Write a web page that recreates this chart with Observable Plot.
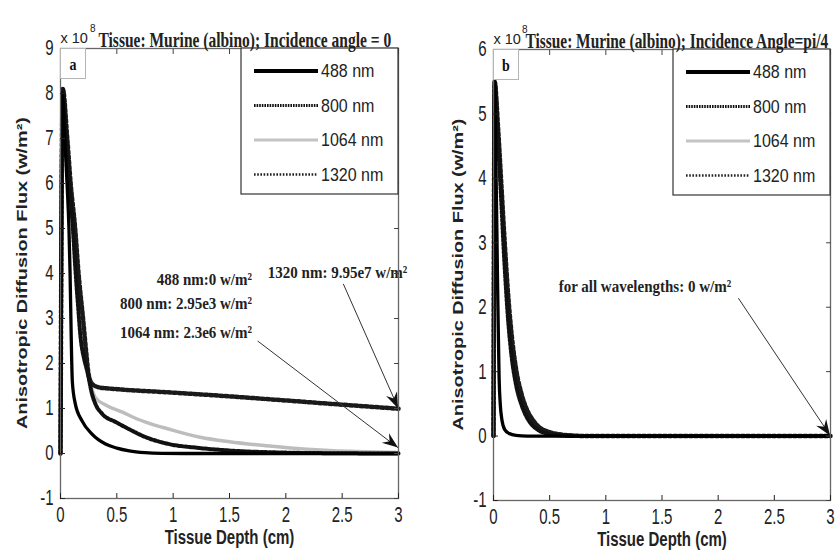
<!DOCTYPE html>
<html><head><meta charset="utf-8">
<script src="https://cdn.jsdelivr.net/npm/d3@7"></script>
<script src="https://cdn.jsdelivr.net/npm/@observablehq/plot@0.6"></script>
<style>
body{margin:0;background:#fff;}
#wrap{display:flex;width:839px;height:556px;overflow:hidden;background:#fff;}
</style></head><body><div id="wrap"></div>
<script>
// ---------- data (flux in units of 1e8 W/m², depth in cm) ----------
const seriesNames = ["488 nm", "800 nm", "1064 nm", "1320 nm"];
const depthTicks = [0, 0.5, 1, 1.5, 2, 2.5, 3];
const fluxTicksA = [-1, 0, 1, 2, 3, 4, 5, 6, 7, 8, 9];
const fluxTicksB = [-1, 0, 1, 2, 3, 4, 5, 6];

// Panel a: incidence angle = 0
const a488 = [[0,0],[0.015,8.0],[0.04,6.9],[0.06,5.9],[0.075,5.0],[0.085,4.0],[0.095,2.6],[0.105,1.6],[0.13,1.12],[0.19,0.73],[0.28,0.43],[0.4,0.21],[0.5,0.12],[0.61,0.06],[0.75,0.02],[0.9,0.004],[1.1,0],[1.5,0],[2,0],[2.5,0],[3,0]];
const a800 = [[0,0],[0.02,8.1],[0.05,7.1],[0.08,6.0],[0.11,5.0],[0.133,4.06],[0.155,3.3],[0.178,2.58],[0.21,2.1],[0.237,1.84],[0.28,1.32],[0.31,1.1],[0.37,0.88],[0.49,0.7],[0.64,0.5],[0.695,0.43],[0.96,0.21],[1.2,0.13],[1.54,0.06],[2.0,0.02],[2.5,0.005],[3,0]];
const a1064 = [[0,0],[0.02,8.1],[0.05,7.0],[0.08,6.0],[0.11,5.0],[0.14,4.0],[0.17,3.0],[0.2,2.3],[0.24,1.75],[0.27,1.5],[0.31,1.24],[0.4,1.08],[0.55,0.92],[0.65,0.8],[0.8,0.66],[0.95,0.55],[1.24,0.36],[1.5,0.26],[1.83,0.17],[2.1,0.11],[2.42,0.06],[2.7,0.04],[3,0.023]];
const a1320 = [[0,0],[0.02,8.1],[0.06,7.0],[0.09,6.0],[0.13,5.0],[0.16,4.0],[0.2,3.0],[0.23,2.2],[0.25,1.75],[0.28,1.55],[0.34,1.47],[0.5,1.43],[0.95,1.36],[1.5,1.27],[1.83,1.21],[2.42,1.1],[3,0.995]];

// Panel b: incidence angle = pi/4
const b488 = [[0,0],[0.01,5.5],[0.02,4.4],[0.03,3.2],[0.036,2.4],[0.043,1.6],[0.05,0.9],[0.06,0.5],[0.075,0.25],[0.1,0.1],[0.14,0.04],[0.2,0.01],[0.3,0],[1,0],[2,0],[3,0]];
const b800 = [[0,0],[0.01,5.5],[0.04,4.6],[0.07,3.6],[0.1,2.6],[0.13,1.8],[0.16,1.25],[0.2,0.8],[0.25,0.48],[0.3,0.28],[0.35,0.16],[0.4,0.09],[0.5,0.03],[0.6,0.01],[0.7,0],[3,0]];
const b1064 = [[0,0],[0.01,5.5],[0.04,4.7],[0.07,3.8],[0.1,2.8],[0.13,2.0],[0.16,1.4],[0.2,0.9],[0.25,0.55],[0.3,0.33],[0.35,0.2],[0.4,0.12],[0.5,0.05],[0.6,0.02],[0.7,0.005],[0.8,0],[3,0]];
const b1320 = [[0,0],[0.01,5.5],[0.04,4.8],[0.07,3.9],[0.1,3.0],[0.13,2.2],[0.16,1.6],[0.2,1.05],[0.25,0.65],[0.3,0.4],[0.35,0.25],[0.4,0.15],[0.5,0.06],[0.6,0.025],[0.7,0.01],[0.8,0],[3,0]];

// Text content
const titleA = "Tissue: Murine (albino); Incidence angle = 0";
const titleB = "Tissue: Murine (albino); Incidence Angle=pi/4";
const xLabel = "Tissue Depth (cm)";
const yLabel = "Anisotropic Diffusion Flux (w/m²)";

// Annotations (data coordinates)
const notesStartA = [
  {text: "1320 nm: 9.95e7 w/m²", x: 1.84, y: 4.02}
];
const notesEndA = [
  {text: "488 nm:0 w/m²", x: 1.70, y: 3.86},
  {text: "800 nm: 2.95e3 w/m²", x: 1.70, y: 3.33},
  {text: "1064 nm: 2.3e6 w/m²", x: 1.70, y: 2.69}
];
const arrowsA = [
  {x1: 2.51, y1: 3.77, x2: 3, y2: 0.995},
  {x1: 1.75, y1: 2.50, x2: 3, y2: 0.12}
];
const notesStartB = [
  {text: "for all wavelengths: 0 w/m²", x: 0.58, y: 2.33}
];
const notesEndB = [];
const arrowsB = [
  {x1: 2.18, y1: 2.14, x2: 3, y2: 0}
];

// ---------- styles ----------
const lineStyle = {
  "488 nm": {stroke: "#000", strokeWidth: 3.3},
  "800 nm": {stroke: "#111", strokeWidth: 4, strokeDasharray: "2.5,1.5"},
  "1064 nm": {stroke: "#bdbdbd", strokeWidth: 3.5},
  "1320 nm": {stroke: "#1a1a1a", strokeWidth: 4.5, strokeDasharray: "3,2.2"}
};
const legendStyle = {
  "488 nm": {stroke: "#000", strokeWidth: 4},
  "800 nm": {stroke: "#111", strokeWidth: 3, strokeDasharray: "1.6,1"},
  "1064 nm": {stroke: "#c4c4c4", strokeWidth: 3},
  "1320 nm": {stroke: "#222", strokeWidth: 2.5, strokeDasharray: "1.6,1.6"}
};
const drawOrder = ["1064 nm", "1320 nm", "800 nm", "488 nm"];
const SANS = "'Liberation Sans', Arial, sans-serif";
const SERIF = "'Liberation Serif', 'Times New Roman', serif";

function overlay(tag, yLabelX) {
  return (index, scales, values, dim) => {
    const g = d3.create("svg:g").attr("text-anchor", "start");
    const right = dim.width - dim.marginRight, top = dim.marginTop, left = dim.marginLeft;
    const midY = (dim.marginTop + dim.height - dim.marginBottom) / 2;
    // rotated y-axis label, lengthened like the original's tall lettering
    const L = 312;
    g.append("text").attr("transform", `translate(${yLabelX},${midY + L / 2}) rotate(-90)`)
      .attr("dy", "0.35em").attr("text-anchor", "start").attr("data-k", 1)
      .attr("textLength", L).attr("lengthAdjust", "spacingAndGlyphs")
      .attr("font-family", SANS).attr("font-weight", "bold").attr("font-size", 14)
      .attr("fill", "#222").text(yLabel);
    // tag box
    g.append("rect").attr("x", left + 0.5).attr("y", top + 0.5).attr("width", 25).attr("height", 30)
      .attr("fill", "#fff").attr("stroke", "#b5b5b5").attr("stroke-width", 1);
    g.append("text").attr("x", left + 13).attr("y", top + 16).attr("dy", "0.35em").attr("data-k", 1.2)
      .attr("text-anchor", "middle").attr("font-family", SERIF).attr("font-weight", "bold")
      .attr("font-size", 14).attr("fill", "#111").text(tag);
    // legend
    const bw = 157, bh = 146, bx = right - bw;
    g.append("rect").attr("x", bx).attr("y", top).attr("width", bw).attr("height", bh)
      .attr("fill", "#fff").attr("stroke", "#333").attr("stroke-width", 1.2);
    seriesNames.forEach((name, i) => {
      const y = top + 23 + i * 34.5, s = legendStyle[name];
      g.append("line").attr("x1", bx + 13).attr("x2", bx + 77).attr("y1", y).attr("y2", y)
        .attr("stroke", s.stroke).attr("stroke-width", s.strokeWidth)
        .attr("stroke-dasharray", s.strokeDasharray || null);
      g.append("text").attr("x", bx + 80).attr("y", y).attr("dy", "0.35em").attr("data-k", 1.15)
        .attr("text-anchor", "start")
        .attr("font-family", SANS).attr("font-size", 16).attr("fill", "#222").text(name);
    });
    return g.node();
  };
}

function arrowHeads(arrows) {
  return (index, scales) => {
    const g = d3.create("svg:g").attr("fill", "#111");
    for (const a of arrows) {
      const x1 = scales.x(a.x1), y1 = scales.y(a.y1), x2 = scales.x(a.x2), y2 = scales.y(a.y2);
      const ang = Math.atan2(y2 - y1, x2 - x1), L = 17, h = 0.36;
      const p = (len, da) => [x2 - len * Math.cos(ang + da), y2 - len * Math.sin(ang + da)];
      const pts = [[x2, y2], p(L, -h), p(L * 0.62, 0), p(L, h)];
      g.append("path").attr("d", "M" + pts.map(q => q.join(",")).join("L") + "Z");
    }
    return g.node();
  };
}

function panel(o) {
  const lines = drawOrder.map(name => Plot.line(o.series[name], {
    x: d => d[0], y: d => d[1], curve: "monotone-x", ...lineStyle[name]
  }));
  const noteStyle = {x: "x", y: "y", text: "text", fontFamily: SERIF, fontWeight: "bold", fontSize: 15, fill: "#222"};
  return Plot.plot({
    width: o.width, height: 556,
    marginLeft: o.marginLeft, marginRight: o.marginRight, marginTop: o.marginTop, marginBottom: o.marginBottom,
    style: {fontFamily: SANS, fontSize: "15px", background: "#fff", overflow: "visible", color: "#222"},
    x: {domain: [0, 3]},
    y: {domain: o.yDomain},
    marks: [
      ...lines,
      Plot.link(o.arrows, {x1: "x1", y1: "y1", x2: "x2", y2: "y2", stroke: "#333", strokeWidth: 1}),
      arrowHeads(o.arrows),
      Plot.text(o.notesStart, {...noteStyle, textAnchor: "start"}),
      Plot.text(o.notesEnd, {...noteStyle, textAnchor: "end"}),
      Plot.frame({stroke: "#666", strokeWidth: 1.3}),
      Plot.axisX({ticks: depthTicks, tickSize: -5, tickPadding: 13, tickFormat: d => String(d), label: null, color: "#222"}),
      Plot.axisX({anchor: "top", ticks: depthTicks, tickSize: -5, tickFormat: () => "", label: null, color: "#444"}),
      Plot.axisY({ticks: o.yTicks, tickSize: -5, tickPadding: 12, tickFormat: d => String(d), label: null, color: "#222"}),
      Plot.axisY({anchor: "right", ticks: o.yTicks, tickSize: -5, tickFormat: () => "", label: null, color: "#444"}),
      overlay(o.tag, o.yLabelX),
      Plot.text([xLabel], {frameAnchor: "bottom", dy: 45, fontWeight: "bold", fontSize: 15, fill: "#222"}),
      Plot.text(["x 10"], {frameAnchor: "top-left", dx: 0, dy: -16, textAnchor: "start", fontSize: 14.5, fill: "#222"}),
      Plot.text(["8"], {frameAnchor: "top-left", dx: o.supDx, dy: -24, textAnchor: "start", fontSize: 10, fill: "#222"}),
      Plot.text([o.title], {frameAnchor: "top-left", dx: o.titleDx, dy: -16, textAnchor: "start",
        fontFamily: SERIF, fontWeight: "bold", fontSize: o.titleSize, fill: "#222"})
    ]
  });
}

// Tall, narrow lettering like the scanned original: a larger font squeezed back
// to the text's natural length. Stretch factor chosen by the text's role.
function kOf(t) {
  if (t.hasAttribute("data-k")) return +t.getAttribute("data-k");
  const cs = getComputedStyle(t);
  const fs = parseFloat(cs.fontSize), serif = /Liberation Serif/.test(cs.fontFamily);
  const bold = cs.fontWeight === "bold" || +cs.fontWeight >= 600;
  if (serif) return fs >= 15.3 ? 1.35 : 1.16;  // titles / annotations
  if (fs <= 10.5 || fs === 14.5) return 1;     // "x 10" and exponent
  if (bold) return 1.3;                        // x-axis label
  return 1.45;                                 // tick labels
}
function tallText(svg) {
  const jobs = [];
  for (const t of svg.querySelectorAll("text")) {
    const len = t.getComputedTextLength();
    if (!len) continue;
    jobs.push({t, len, fs: parseFloat(getComputedStyle(t).fontSize), k: kOf(t)});
  }
  for (const j of jobs) {
    if (j.k === 1) continue;
    j.t.style.fontSize = (j.fs * j.k) + "px";
    j.t.setAttribute("textLength", j.len);
    j.t.setAttribute("lengthAdjust", "spacingAndGlyphs");
  }
}

const wrap = document.getElementById("wrap");
const chartA = panel({
  width: 420, marginLeft: 60, marginRight: 22, marginTop: 48, marginBottom: 58,
  yDomain: [-1, 9], yTicks: fluxTicksA, tag: "a", title: titleA, titleDx: 38, titleSize: 15.5, supDx: 29.5, yLabelX: 22,
  series: {"488 nm": a488, "800 nm": a800, "1064 nm": a1064, "1320 nm": a1320},
  notesStart: notesStartA, notesEnd: notesEndA, arrows: arrowsA
});
const chartB = panel({
  width: 419, marginLeft: 73, marginRight: 9, marginTop: 49, marginBottom: 56,
  yDomain: [-1, 6], yTicks: fluxTicksB, tag: "b", title: titleB, titleDx: 32, titleSize: 15.4, supDx: 28.5, yLabelX: 38,
  series: {"488 nm": b488, "800 nm": b800, "1064 nm": b1064, "1320 nm": b1320},
  notesStart: notesStartB, notesEnd: notesEndB, arrows: arrowsB
});
wrap.append(chartA, chartB);
tallText(chartA);
tallText(chartB);
</script></body></html>
